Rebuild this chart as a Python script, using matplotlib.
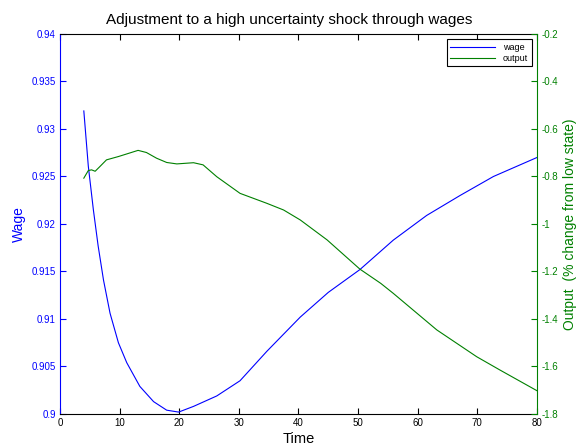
import matplotlib
matplotlib.use("Agg")
import matplotlib.pyplot as plt
from matplotlib.ticker import FuncFormatter

plt.rcParams['font.family'] = ['Liberation Sans', 'DejaVu Sans']
plt.rcParams['axes.unicode_minus'] = False

# values
wage_t = [4, 4.75, 5.6, 6.4, 7.3, 8.4, 9.8, 11.2, 13.4, 15.7, 17.9, 19.9, 22.4,
          26.3, 30.2, 34.7, 40.3, 45, 50.3, 55.9, 61.5, 67.1, 72.7, 80]
wage = [0.9319, 0.9261, 0.9215, 0.9177, 0.9141, 0.9106, 0.9075, 0.9054, 0.9029,
        0.9013, 0.9004, 0.9002, 0.9008, 0.9019, 0.9035, 0.9066, 0.9102, 0.9128,
        0.9152, 0.9183, 0.9209, 0.9230, 0.9250, 0.9270]

out_t = [4, 4.75, 5.3, 5.9, 6.7, 7.8, 9.8, 11.2, 13.1, 14.5, 16.2, 17.9, 19.6,
         22.4, 24.0, 26.3, 30.2, 34.7, 37.5, 40.3, 44.8, 50.3, 53.8, 55.9, 63.2,
         69.9, 73.8, 80]
output = [-0.807, -0.775, -0.772, -0.778, -0.758, -0.730, -0.716, -0.705, -0.690,
          -0.699, -0.723, -0.741, -0.747, -0.742, -0.751, -0.801, -0.871, -0.913,
          -0.941, -0.983, -1.067, -1.19, -1.25, -1.292, -1.446, -1.559, -1.615,
          -1.702]

xticks = list(range(0, 81, 10))
wage_ticks = [0.9, 0.905, 0.91, 0.915, 0.92, 0.925, 0.93, 0.935, 0.94]
out_ticks = [-1.8, -1.6, -1.4, -1.2, -1, -0.8, -0.6, -0.4, -0.2]

blue = '#0000ff'
green = '#008000'

fig = plt.figure(figsize=(5.8, 4.45), dpi=100)
ax = fig.add_axes([0.1034, 0.0697, 0.8224, 0.8539])
ax2 = ax.twinx()

l1, = ax.plot(wage_t, wage, color=blue, lw=0.8, label='wage')
l2, = ax2.plot(out_t, output, color=green, lw=0.8, label='output')

ax.set_xlim(0, 80)
ax.set_ylim(0.9, 0.94)
ax2.set_ylim(-1.8, -0.2)
ax.set_xticks(xticks)
ax.set_yticks(wage_ticks)
ax2.set_yticks(out_ticks)
ax.yaxis.set_major_formatter(FuncFormatter(lambda v, p: '%g' % v))
ax2.yaxis.set_major_formatter(FuncFormatter(lambda v, p: '%g' % round(v, 2)))

ax.tick_params(axis='x', direction='in', top=True, labelsize=7, length=4,
               width=0.8, pad=3)
ax.tick_params(axis='y', direction='in', colors=blue, labelsize=7, length=4,
               width=0.8, pad=3)
ax2.tick_params(axis='y', direction='in', colors=green, labelsize=7, length=4,
                width=0.8, pad=3)

ax.spines['left'].set_color(blue)
ax2.spines['left'].set_visible(False)
ax2.spines['right'].set_color(green)
ax2.spines['top'].set_visible(False)
ax2.spines['bottom'].set_visible(False)
ax.spines['right'].set_visible(False)
for s in ['left', 'top', 'bottom']:
    ax.spines[s].set_linewidth(0.8)
ax2.spines['right'].set_linewidth(0.8)

ax.set_xlabel('Time', fontsize=10.5, labelpad=3)
ax.set_ylabel('Wage', fontsize=10, color=blue, labelpad=4)
ax2.set_ylabel('Output  (% change from low state)', fontsize=10, color=green,
               labelpad=4)
ax.set_title('Adjustment to a high uncertainty shock through wages',
             fontsize=11, pad=7, x=0.48)

leg = ax2.legend([l1, l2], ['wage', 'output'], loc='upper right', fontsize=6.5,
                 fancybox=False, framealpha=1, edgecolor='black',
                 borderaxespad=0.6, handlelength=5, borderpad=0.4,
                 labelspacing=0.2)
leg.get_frame().set_linewidth(0.8)

fig.savefig('out.png', dpi=100)
